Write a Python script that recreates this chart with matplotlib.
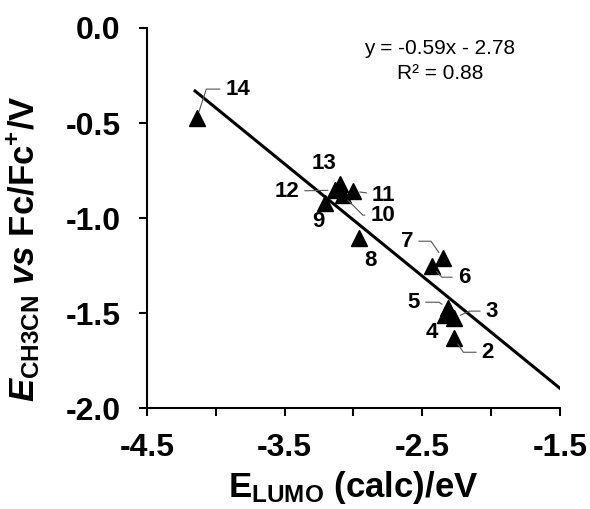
import matplotlib
matplotlib.use("Agg")
import matplotlib.pyplot as plt
import numpy as np

plt.rcParams["font.family"] = ["Liberation Sans", "DejaVu Sans"]
plt.rcParams["mathtext.fontset"] = "custom"
plt.rcParams["mathtext.rm"] = "Liberation Sans:bold"
plt.rcParams["mathtext.bf"] = "Liberation Sans:bold"
plt.rcParams["mathtext.it"] = "Liberation Sans:italic:bold"

# compound number, calculated LUMO (eV), reduction potential vs Fc/Fc+ (V)
compound = ["2", "3", "4", "5", "6", "7", "8", "9", "10", "11", "12", "13", "14"]
e_lumo = [-2.27, -2.27, -2.336, -2.314, -2.43, -2.35, -2.96, -3.207, -3.077, -3.004, -3.135, -3.098, -4.137]
e_red = [-1.632, -1.526, -1.511, -1.474, -1.253, -1.211, -1.105, -0.921, -0.879, -0.858, -0.853, -0.821, -0.474]

slope, intercept = -0.59, -2.78
fit_x = [-4.15, -1.5]
equation = "y = -0.59x - 2.78\nR² = 0.88"

x_ticks = [-4.5, -4.0, -3.5, -3.0, -2.5, -2.0, -1.5]
x_ticklabels = ["-4.5", "", "-3.5", "", "-2.5", "", "-1.5"]
y_ticks = [0.0, -0.5, -1.0, -1.5, -2.0]
y_ticklabels = ["0.0", "-0.5", "-1.0", "-1.5", "-2.0"]

# label placement: text offset (pixels) and leader angle at the point (None = no leader)
label_style = {
    "2": ((34, -14), -56),
    "3": ((38, 7), 24),
    "4": ((-13, -17), None),
    "5": ((-34, 6), -34),
    "6": ((32, -11), -48),
    "7": ((-36, 17), -55),
    "8": ((12, -22), None),
    "9": ((-6, -18), None),
    "10": ((40, -20), -45),
    "11": ((31, -4), 0),
    "12": ((-48, -1), 0),
    "13": ((-16, 21), None),
    "14": ((41, 29), 72),
}

fig = plt.figure(figsize=(5.9, 5.09), dpi=100)
ax = fig.add_axes([0.249, 0.198, 0.700, 0.747])

fx = np.array(fit_x)
ax.plot(fx, slope * fx + intercept, color="black", lw=2.2, zorder=2)
ax.plot(e_lumo, e_red, "^", color="black", ms=11, zorder=3)

for name, x, y in zip(compound, e_lumo, e_red):
    off, ang = label_style[name]
    props = None
    if ang is not None:
        cs = "arc3,rad=0" if ang == 0 else f"angle,angleA=0,angleB={ang},rad=0"
        props = dict(arrowstyle="-", color="#555555", lw=0.8,
                     connectionstyle=cs, shrinkA=2, shrinkB=5)
    ax.annotate(name, (x, y), xytext=off, textcoords="offset pixels",
                ha="center", va="center", fontsize=16, fontweight="bold",
                arrowprops=props, zorder=4)

ax.text(0.709, 0.97, equation, transform=ax.transAxes, ha="center", va="top",
        fontsize=15, linespacing=1.4)

ax.set_xlim(-4.5, -1.5)
ax.set_ylim(-2.0, 0.0)
ax.set_xticks(x_ticks, x_ticklabels)
ax.set_yticks(y_ticks, y_ticklabels)
for lab in ax.get_xticklabels() + ax.get_yticklabels():
    lab.set_fontweight("bold")
ax.tick_params(direction="out", length=6, width=1.5, labelsize=23)
ax.tick_params(axis="y", pad=13)
ax.tick_params(axis="x", pad=12)

for side in ("top", "right"):
    ax.spines[side].set_visible(False)
for side in ("left", "bottom"):
    ax.spines[side].set_linewidth(1.5)

ax.set_xlabel(r"$\mathbf{E}_{\mathbf{LUMO}}$ (calc)/eV", fontsize=25, fontweight="bold")
ax.set_ylabel(r"$\mathit{E}_{\mathbf{CH3CN}}$ $\mathit{vs}$ Fc/$\mathbf{Fc}^{\mathbf{+}}$/V",
              fontsize=25, fontweight="bold")
ax.xaxis.set_label_coords(0.5, -0.16)
ax.yaxis.set_label_coords(-0.255, 0.42)

fig.savefig("out.png", dpi=100)
